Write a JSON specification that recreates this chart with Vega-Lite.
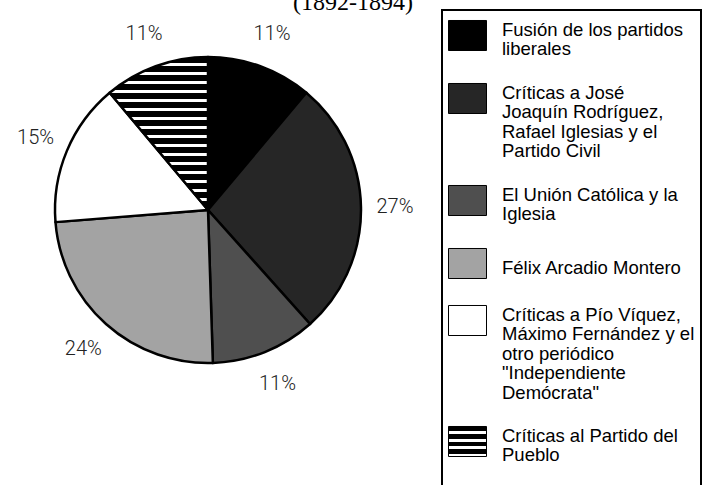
{
  "$schema": "https://vega.github.io/schema/vega-lite/v6.json",
  "width": 416,
  "height": 340,
  "autosize": {"type": "none"},
  "padding": {"left": 0, "top": 40, "right": 286, "bottom": 105},
  "background": "white",
  "title": {
    "text": "(1892-1894)",
    "font": "Liberation Serif",
    "fontSize": 24,
    "fontWeight": "normal",
    "color": "black",
    "anchor": "start",
    "dx": 293,
    "offset": -6
  },
  "data": {
    "values": [
      {"orden": 1, "tema": "Fusión de los partidos liberales", "pct": 0.11},
      {"orden": 2, "tema": "Críticas a José Joaquín Rodríguez, Rafael Iglesias y el Partido Civil", "pct": 0.27},
      {"orden": 3, "tema": "El Unión Católica y la Iglesia", "pct": 0.11},
      {"orden": 4, "tema": "Félix Arcadio Montero", "pct": 0.24},
      {"orden": 5, "tema": "Críticas a Pío Víquez, Máximo Fernández y el otro periódico \"Independiente Demócrata\"", "pct": 0.15},
      {"orden": 6, "tema": "Críticas al Partido del Pueblo", "pct": 0.11}
    ]
  },
  "layer": [
    {
      "mark": {"type": "arc", "outerRadius": 153, "stroke": "black", "strokeWidth": 2.5, "strokeJoin": "round", "opacity": 1},
      "encoding": {
        "theta": {"field": "pct", "type": "quantitative", "stack": true},
        "order": {"field": "orden", "type": "quantitative"},
        "color": {
          "field": "tema",
          "type": "nominal",
          "condition": {
            "test": "datum.orden === 6",
            "value": {
              "gradient": "linear", "x1": 0, "y1": 0, "x2": 0, "y2": 1,
              "stops": [
                {"offset": 0, "color": "black"}, {"offset": 0.0365, "color": "black"}, {"offset": 0.0365, "color": "white"}, {"offset": 0.0588, "color": "white"},
                {"offset": 0.0588, "color": "black"}, {"offset": 0.0953, "color": "black"}, {"offset": 0.0953, "color": "white"}, {"offset": 0.1176, "color": "white"},
                {"offset": 0.1176, "color": "black"}, {"offset": 0.1541, "color": "black"}, {"offset": 0.1541, "color": "white"}, {"offset": 0.1765, "color": "white"},
                {"offset": 0.1765, "color": "black"}, {"offset": 0.2130, "color": "black"}, {"offset": 0.2130, "color": "white"}, {"offset": 0.2353, "color": "white"},
                {"offset": 0.2353, "color": "black"}, {"offset": 0.2718, "color": "black"}, {"offset": 0.2718, "color": "white"}, {"offset": 0.2941, "color": "white"},
                {"offset": 0.2941, "color": "black"}, {"offset": 0.3306, "color": "black"}, {"offset": 0.3306, "color": "white"}, {"offset": 0.3529, "color": "white"},
                {"offset": 0.3529, "color": "black"}, {"offset": 0.3894, "color": "black"}, {"offset": 0.3894, "color": "white"}, {"offset": 0.4118, "color": "white"},
                {"offset": 0.4118, "color": "black"}, {"offset": 0.4483, "color": "black"}, {"offset": 0.4483, "color": "white"}, {"offset": 0.4706, "color": "white"},
                {"offset": 0.4706, "color": "black"}, {"offset": 0.5071, "color": "black"}, {"offset": 0.5071, "color": "white"}, {"offset": 0.5294, "color": "white"},
                {"offset": 0.5294, "color": "black"}, {"offset": 0.5659, "color": "black"}, {"offset": 0.5659, "color": "white"}, {"offset": 0.5882, "color": "white"},
                {"offset": 0.5882, "color": "black"}, {"offset": 0.6247, "color": "black"}, {"offset": 0.6247, "color": "white"}, {"offset": 0.6471, "color": "white"},
                {"offset": 0.6471, "color": "black"}, {"offset": 0.6836, "color": "black"}, {"offset": 0.6836, "color": "white"}, {"offset": 0.7059, "color": "white"},
                {"offset": 0.7059, "color": "black"}, {"offset": 0.7424, "color": "black"}, {"offset": 0.7424, "color": "white"}, {"offset": 0.7647, "color": "white"},
                {"offset": 0.7647, "color": "black"}, {"offset": 0.8012, "color": "black"}, {"offset": 0.8012, "color": "white"}, {"offset": 0.8235, "color": "white"},
                {"offset": 0.8235, "color": "black"}, {"offset": 0.8600, "color": "black"}, {"offset": 0.8600, "color": "white"}, {"offset": 0.8824, "color": "white"},
                {"offset": 0.8824, "color": "black"}, {"offset": 0.9189, "color": "black"}, {"offset": 0.9189, "color": "white"}, {"offset": 0.9412, "color": "white"},
                {"offset": 0.9412, "color": "black"}, {"offset": 0.9777, "color": "black"}, {"offset": 0.9777, "color": "white"}, {"offset": 1, "color": "white"}
              ]
            }
          },
          "scale": {
            "domain": [
              "Fusión de los partidos liberales",
              "Críticas a José Joaquín Rodríguez, Rafael Iglesias y el Partido Civil",
              "El Unión Católica y la Iglesia",
              "Félix Arcadio Montero",
              "Críticas a Pío Víquez, Máximo Fernández y el otro periódico \"Independiente Demócrata\"",
              "Críticas al Partido del Pueblo"
            ],
            "range": [
              "#000000", "#262626", "#4f4f4f", "#a3a3a3", "#ffffff",
              {"expr": "{gradient: 'linear', x1: 0, y1: 0, x2: 0, y2: 1, stops: [{offset: 0, color: 'black'}, {offset: 0.16, color: 'black'}, {offset: 0.16, color: 'white'}, {offset: 0.25, color: 'white'}, {offset: 0.25, color: 'black'}, {offset: 0.41, color: 'black'}, {offset: 0.41, color: 'white'}, {offset: 0.5, color: 'white'}, {offset: 0.5, color: 'black'}, {offset: 0.66, color: 'black'}, {offset: 0.66, color: 'white'}, {offset: 0.75, color: 'white'}, {offset: 0.75, color: 'black'}, {offset: 0.91, color: 'black'}, {offset: 0.91, color: 'white'}, {offset: 1, color: 'white'}]}"}
            ]
          },
          "legend": {
            "title": null,
            "orient": "none",
            "legendX": 442,
            "legendY": -30,
            "padding": 6,
            "rowPadding": 20,
            "symbolType": "M-1,-0.79L1,-0.79L1,0.79L-1,0.79Z",
            "symbolSize": 1444,
            "symbolStrokeColor": "black",
            "symbolStrokeWidth": 1,
            "symbolOpacity": 1,
            "labelFont": "Liberation Sans",
            "labelFontSize": 18.5,
            "labelColor": "black",
            "labelOffset": 15,
            "labelLimit": 400,
            "labelBaseline": "alphabetic",
            "labelExpr": "datum.value == 'Fusión de los partidos liberales' ? ['Fusión de los partidos', 'liberales'] : datum.value == 'Críticas a José Joaquín Rodríguez, Rafael Iglesias y el Partido Civil' ? ['Críticas a José', 'Joaquín Rodríguez,', 'Rafael Iglesias y el', 'Partido Civil'] : datum.value == 'El Unión Católica y la Iglesia' ? ['El Unión Católica y la', 'Iglesia'] : datum.value == 'Félix Arcadio Montero' ? 'Félix Arcadio Montero' : datum.value == 'Críticas al Partido del Pueblo' ? ['Críticas al Partido del', 'Pueblo', ' ', ' '] : ['Críticas a Pío Víquez,', 'Máximo Fernández y el', 'otro periódico', '\"Independiente', 'Demócrata\"']",
            "encode": {
              "legend": {"update": {"stroke": {"value": "black"}, "strokeWidth": {"value": 2}}},
              "labels": {"update": {"lineHeight": {"value": 19.5}, "dy": {"signal": "datum.value == 'Félix Arcadio Montero' ? 10 : 0"}}},
              "symbols": {"update": {
                "stroke": {"value": "black"},
                "strokeWidth": {"value": 1}
              }}
            }
          }
        }
      }
    },
    {
      "mark": {"type": "text", "radius": 187, "font": "Roboto", "fontWeight": 300, "fontSize": 20, "color": "#222222"},
      "encoding": {
        "theta": {"field": "pct", "type": "quantitative", "stack": true},
        "order": {"field": "orden", "type": "quantitative"},
        "text": {"field": "pct", "type": "quantitative", "format": ".0%"}
      }
    }
  ],
  "config": {"view": {"stroke": null}}
}
